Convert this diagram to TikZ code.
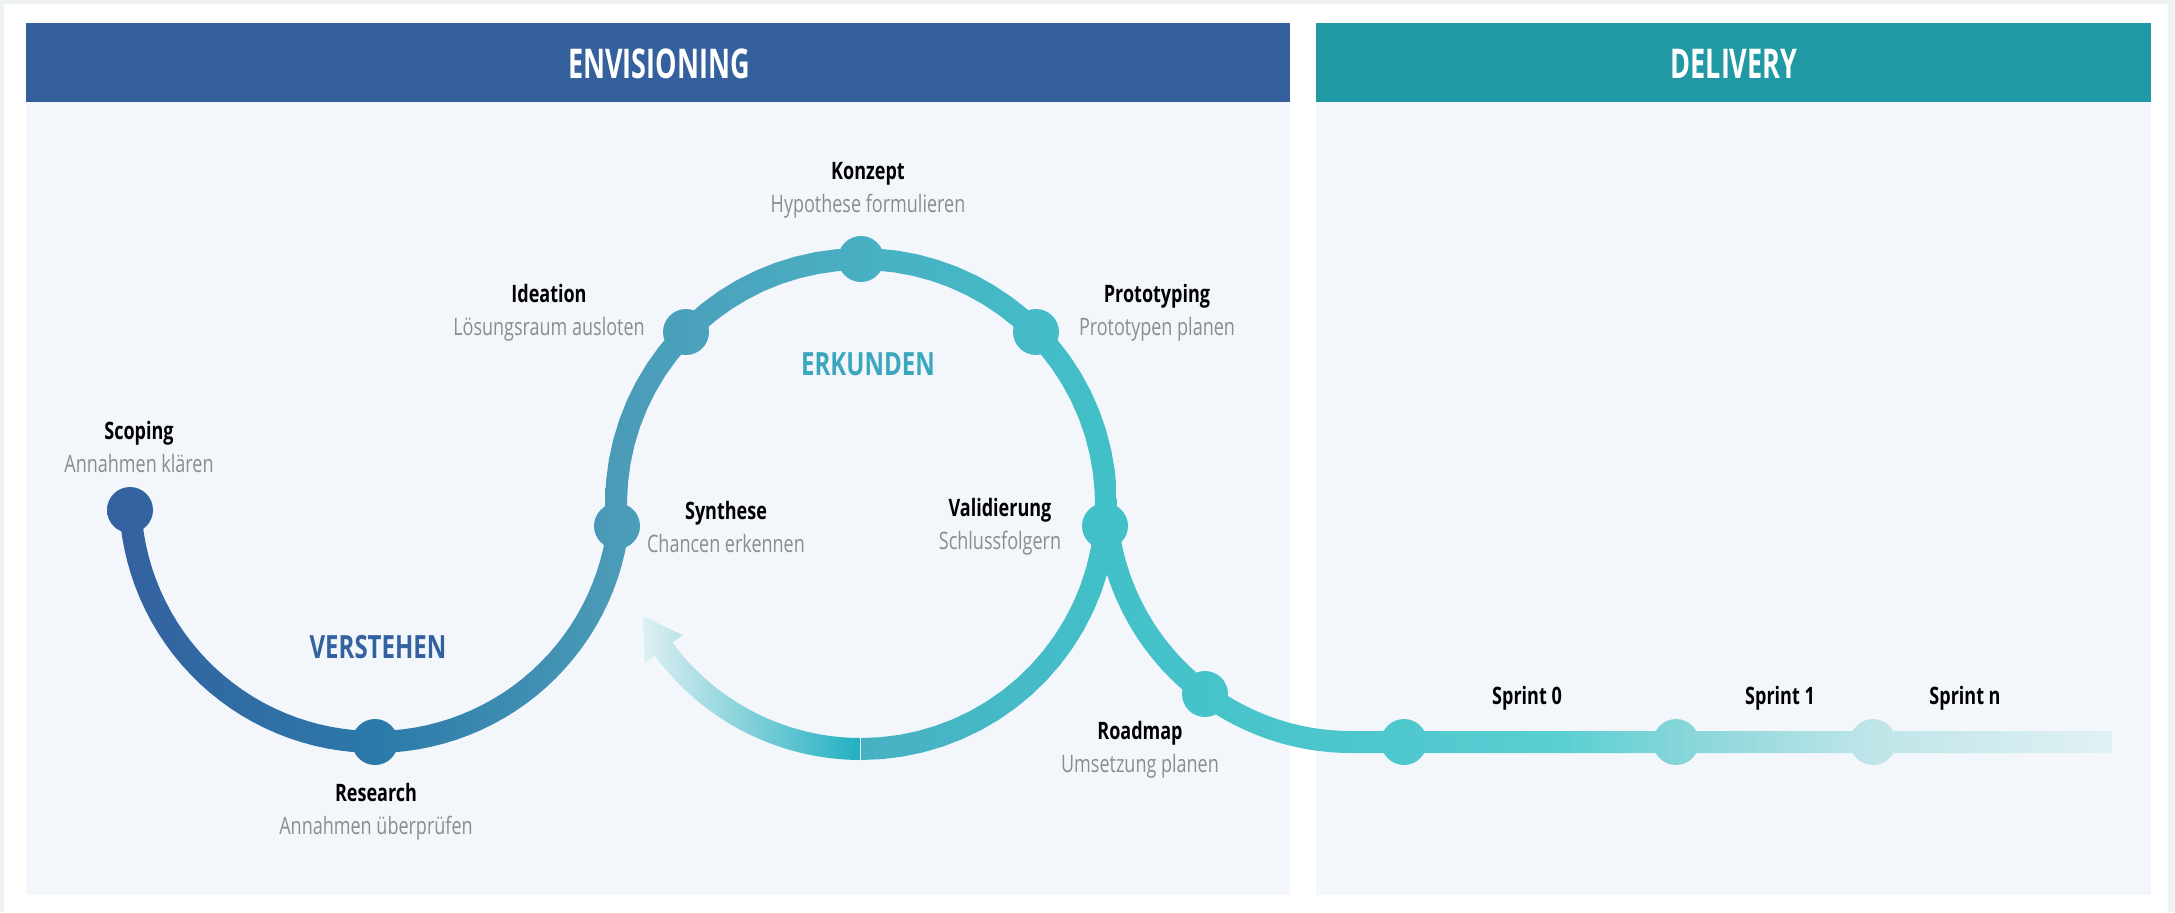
\documentclass[tikz,border=0pt]{standalone}
\usepackage{fontspec}
\setmainfont{Open Sans}[FakeStretch=0.75]
\newfontfamily\headfont{Open Sans}[FakeStretch=0.66]
\usetikzlibrary{positioning}

\definecolor{outergrey}{HTML}{EEF2F2}
\definecolor{panelbg}{HTML}{F3F7FC}
\definecolor{envblue}{HTML}{34619D}
\definecolor{delteal}{HTML}{2199A5}
\definecolor{subgrey}{HTML}{8C8C8C}
\definecolor{phaseblue}{HTML}{3462A0}
\definecolor{phaseteal}{HTML}{3BA7BF}
\definecolor{arrowlight}{HTML}{DDEFF2}
\definecolor{arrowmid}{HTML}{7BCDD6}
\definecolor{arrowteal}{HTML}{22B0C1}
\definecolor{t0}{HTML}{3462A0}
\definecolor{t1}{HTML}{2B79A9}
\definecolor{t2}{HTML}{4B9BB8}
\definecolor{t3}{HTML}{48B0C3}
\definecolor{t4}{HTML}{42C0C8}
\definecolor{t5}{HTML}{4FC8CD}
\definecolor{t6}{HTML}{5ACFD3}
\definecolor{t7}{HTML}{84D5D8}
\definecolor{t8}{HTML}{BFE5E9}
\definecolor{t9}{HTML}{E0F1F4}

\pgfdeclarehorizontalshading{trail}{100bp}{color(0bp)=(t0); color(25.6bp)=(t0);
  color(31.7bp)=(t1); color(37.74bp)=(t2); color(43.97bp)=(t3); color(49.9bp)=(t4);
  color(57.35bp)=(t5); color(61.24bp)=(t6); color(64.13bp)=(t7); color(69.04bp)=(t8);
  color(75bp)=(t9); color(100bp)=(t9)}

\tikzset{head/.style = {font=\fontsize{20.5}{24}\headfont\bfseries, text=white},
         phase/.style = {font=\fontsize{16}{19}\selectfont\bfseries},
         stage/.style = {align=center, font=\fontsize{12}{16.5}\selectfont},
         sprint/.style = {font=\fontsize{12}{14}\selectfont\bfseries}
        }

\newcommand\stagetext[2]{\textbf{#1}\\\textcolor{subgrey}{#2}}
\newcommand\trailband[4]{%
  \begin{scope}
  \clip plot[domain=#3:#4,samples=60] ({#1+256*cos(\x)},{#2+256*sin(\x)})
     -- plot[domain=#4:#3,samples=60] ({#1+234*cos(\x)},{#2+234*sin(\x)}) -- cycle;
  \shade[shading=trail] (106,0) rectangle (2112,912);
  \end{scope}}

\begin{document}
\begin{tikzpicture}[x=0.5pt,y=-0.5pt]
\useasboundingbox (0,0) rectangle (2175,912);
\fill[outergrey] (0,0) rectangle (2175,912);
\fill[white] (4,4) rectangle (2168,912);
\fill[panelbg] (26,23) rectangle (1290,895);
\fill[panelbg] (1316,23) rectangle (2151,895);
\fill[envblue] (26,23) rectangle (1290,102);
\fill[delteal] (1316,23) rectangle (2151,102);
\node[head] (envisioning) at (659,64) {ENVISIONING};
\node[head] (delivery) at (1734,64) {DELIVERY};

\coordinate (scoping) at (130,510);
\coordinate (research) at (375,742);
\coordinate (synthese) at (617,526);
\coordinate (ideation) at (686,332);
\coordinate (konzept) at (861,259);
\coordinate (prototyping) at (1036,332);
\coordinate (validierung) at (1105,526);
\coordinate (roadmap) at (1205,694);
\coordinate (sprint0) at (1404,742);
\coordinate (sprint1) at (1676,742);
\coordinate (sprintn) at (1873,742);
\coordinate (lineend) at (2112,742);

\trailband{375}{497}{4}{177}
\trailband{861}{504}{176}{450}
\begin{scope}
\clip plot[domain=176:90,samples=60] ({1351+256*cos(\x)},{497+256*sin(\x)})
  -- ([yshift=-5.5pt]lineend) -- ([yshift=5.5pt]lineend)
  -- plot[domain=90:176,samples=60] ({1351+234*cos(\x)},{497+234*sin(\x)}) -- cycle;
\shade[shading=trail] (106,0) rectangle (2112,912);
\end{scope}
\begin{scope}
\clip foreach \d in {scoping,research,synthese,ideation,konzept,prototyping,validierung,roadmap,sprint0,sprint1,sprintn} {(\d) circle[radius=23]};
\shade[shading=trail] (106,0) rectangle (2112,912);
\end{scope}

\shade[left color=arrowlight, middle color=arrowmid, right color=arrowteal]
  plot[domain=90.25:143.7,samples=40] ({861+256*cos(\x)},{504+256*sin(\x)})
  -- ({861+268.5*cos(143.7)},{504+268.5*sin(143.7)})
  -- ({861+245*cos(152.7)},{504+245*sin(152.7)})
  -- ({861+221.5*cos(143.7)},{504+221.5*sin(143.7)})
  -- plot[domain=143.7:90.25,samples=40] ({861+234*cos(\x)},{504+234*sin(\x)}) -- cycle;

\node[phase, text=phaseblue] (verstehen) at (378,647) {VERSTEHEN};
\node[phase, text=phaseteal] (erkunden) at (868,364) {ERKUNDEN};

\node[stage] (scopinglabel) at (139,447) {\stagetext{Scoping}{Annahmen klären}};
\node[stage] (researchlabel) at (376,812) {\stagetext{Research}{Annahmen überprüfen}};
\node[stage] (ideationlabel) at (549,313) {\stagetext{Ideation}{Lösungsraum ausloten}};
\node[stage] (konzeptlabel) at (868,190) {\stagetext{Konzept}{Hypothese formulieren}};
\node[stage] (prototypinglabel) at (1157,313) {\stagetext{Prototyping}{Prototypen planen}};
\node[stage] (syntheselabel) at (726,527) {\stagetext{Synthese}{Chancen erkennen}};
\node[stage] (validierunglabel) at (1000,527) {\stagetext{Validierung}{Schlussfolgern}};
\node[stage] (roadmaplabel) at (1140,750) {\stagetext{Roadmap}{Umsetzung planen}};
\node[sprint] (sprint0label) at (1527,698) {Sprint 0};
\node[sprint] (sprint1label) at (1780,698) {Sprint 1};
\node[sprint] (sprintnlabel) at (1965,698) {Sprint n};
\end{tikzpicture}
\end{document}
